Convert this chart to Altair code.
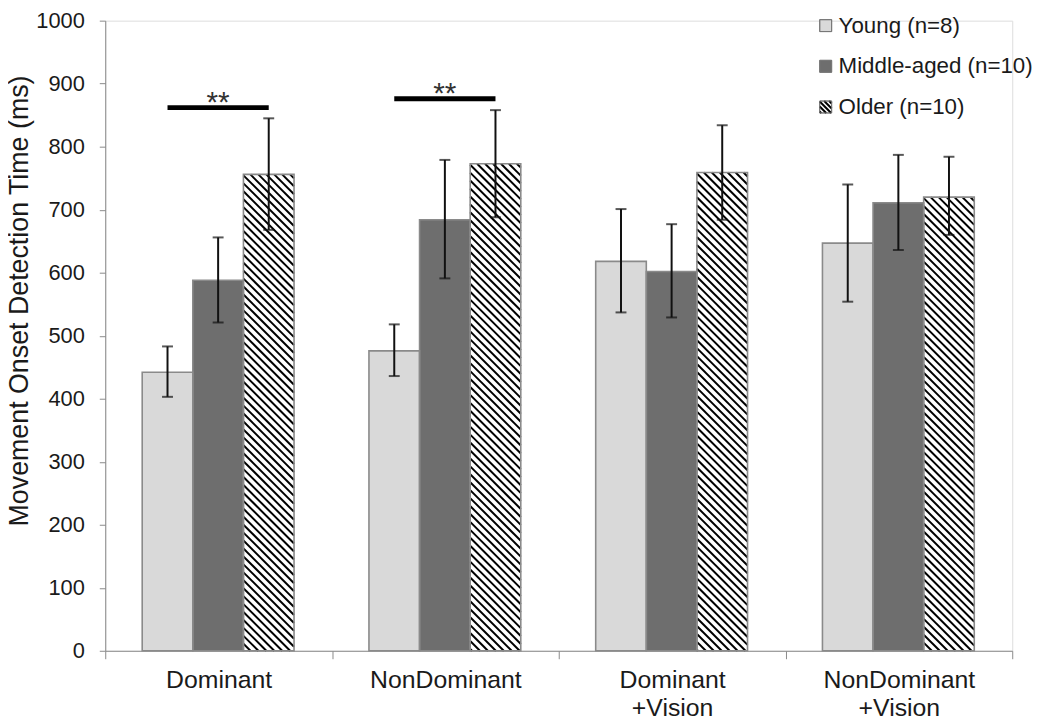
import altair as alt
import pandas as pd
import numpy as np

# ---------------- data ----------------
categories = ["Dominant", "NonDominant", "Dominant +Vision", "NonDominant +Vision"]
groups = ["Young (n=8)", "Middle-aged (n=10)", "Older (n=10)"]

young_mean = [442, 476, 618, 647]
young_lo = [403, 436, 537, 554]
young_hi = [483, 518, 701, 740]

middle_mean = [588, 684, 602, 711]
middle_lo = [521, 591, 529, 636]
middle_hi = [656, 779, 677, 787]

older_mean = [756, 773, 759, 720]
older_lo = [668, 688, 684, 660]
older_hi = [845, 858, 834, 784]

sig_categories = [0, 1]      # categories with a Young vs Older significance bar
sig_values = [862, 876]      # height of the significance bar
sig_text = "**"

y_ticks = list(range(0, 1001, 100))

# ---------------- layout ----------------
W, H = 914, 635
Y_MAX = 1000
SX = W / len(categories)     # px per category unit
SY = H / Y_MAX               # px per ms
GROUP_OFFSET = 0.163
BAR_W = 0.2232
FILLS = ["#d9d9d9", "#6e6e6e", "#ffffff"]
EDGE = "#8a8a8a"
HATCH_SPACING = 8
FONT = "Liberation Sans"
TEXT = "#1a1a1a"

means = [young_mean, middle_mean, older_mean]
los = [young_lo, middle_lo, older_lo]
his = [young_hi, middle_hi, older_hi]

rows = []
for ci, cat in enumerate(categories):
    for gi, g in enumerate(groups):
        x0 = ci + GROUP_OFFSET + gi * BAR_W
        rows.append(dict(category=cat, group=g, x0=x0, x1=x0 + BAR_W,
                         xc=x0 + BAR_W / 2, mean=means[gi][ci],
                         lo=los[gi][ci], hi=his[gi][ci], zero=0))
bars = pd.DataFrame(rows)


def hatch(left, right, bottom, top, spacing=HATCH_SPACING):
    """Diagonal '\\' hatch lines clipped to a rectangle given in data units."""
    w = (right - left) * SX
    h = (top - bottom) * SY
    segs = []
    c = -w + spacing / 2
    while c < h:
        px1 = max(0.0, -c)
        px2 = min(w, h - c)
        if px2 > px1:
            segs.append(dict(hx=left + px1 / SX, hy=top - (px1 + c) / SY,
                             hx2=left + px2 / SX, hy2=top - (px2 + c) / SY))
        c += spacing
    return segs


hatch_rows = []
for _, r in bars[bars.group == groups[2]].iterrows():
    hatch_rows += hatch(r.x0, r.x1, 0, r["mean"])

# significance bars: from Young bar centre to Older bar centre
sig_rows = []
for ci, v in zip(sig_categories, sig_values):
    xs = bars[bars.category == categories[ci]].xc.tolist()
    sig_rows.append(dict(sx=xs[0], sx2=xs[-1], sxm=(xs[0] + xs[-1]) / 2, sy=v, label=sig_text))
sig = pd.DataFrame(sig_rows)

# legend (placed in data space via pixel layout)
def px_x(px):
    return px / SX

def px_y(py):
    return (H - py) / SY

LEG_SQ = 12
leg_rows = []
for i, g in enumerate(groups):
    cy = 5 + i * 41
    leg_rows.append(dict(group=g, lx0=px_x(720), lx1=px_x(720 + LEG_SQ),
                         ly0=px_y(cy + LEG_SQ / 2), ly1=px_y(cy - LEG_SQ / 2),
                         tx=px_x(739), ty=px_y(cy)))
legend = pd.DataFrame(leg_rows)
lr = leg_rows[2]
hatch_rows += hatch(lr["lx0"], lr["lx1"], lr["ly0"], lr["ly1"], spacing=5)
hatches = pd.DataFrame(hatch_rows)

# ---------------- chart ----------------
xscale = alt.Scale(domain=[0, len(categories)], nice=False, zero=False)
yscale = alt.Scale(domain=[0, Y_MAX], nice=False)
color_scale = alt.Scale(domain=groups, range=FILLS)

label_expr = ""
for ci, cat in enumerate(categories):
    parts = cat.split(" ")
    lab = "'" + parts[0] + "'" if len(parts) == 1 else "[" + ",".join("'" + p + "'" for p in parts) + "]"
    label_expr += f"datum.value == {ci + 0.5} ? {lab} : "
label_expr += "''"

xaxis = alt.Axis(
    values=[i / 2 for i in range(2 * len(categories) + 1)],
    labelExpr=label_expr, labelOverlap=False, labelFlush=False, labelBound=False,
    tickOpacity={"condition": {"test": "datum.value % 1 == 0", "value": 1}, "value": 0},
    tickSize=8, tickColor=EDGE, domainColor=EDGE, grid=False,
    labelFont=FONT, labelFontSize=25, labelColor=TEXT, labelPadding=9,
    labelLineHeight=28, labelBaseline="top", title=None,
)
yaxis = alt.Axis(
    values=y_ticks, format="d", tickSize=6, tickColor=EDGE, domainColor=EDGE, grid=False,
    labelFont=FONT, labelFontSize=22, labelColor=TEXT, labelPadding=15,
    title="Movement Onset Detection Time (ms)", titleFont=FONT, titleFontSize=27,
    titleFontWeight="normal", titleColor=TEXT, titlePadding=2, titleY=282,
)

base = alt.Chart(bars)

bar_fill = base.mark_rect(strokeWidth=0).encode(
    x=alt.X("x0:Q", scale=xscale, axis=xaxis),
    x2="x1:Q",
    y=alt.Y("mean:Q", scale=yscale, axis=yaxis),
    y2="zero:Q",
    color=alt.Color("group:N", scale=color_scale, legend=None),
)

hatch_layer = alt.Chart(hatches).mark_rule(color="black", strokeWidth=2.0, strokeCap="butt").encode(
    x="hx:Q", y="hy:Q", x2="hx2:Q", y2="hy2:Q"
)

bar_edge = base.mark_rect(fillOpacity=0, stroke=EDGE, strokeWidth=1.6).encode(
    x="x0:Q", x2="x1:Q", y="mean:Q", y2="zero:Q"
)

err = base.mark_rule(color="#111111", strokeWidth=2).encode(
    x="xc:Q", y="lo:Q", y2="hi:Q"
)
cap_lo = base.mark_tick(color="#111111", orient="horizontal", size=11, thickness=2).encode(
    x="xc:Q", y="lo:Q"
)
cap_hi = base.mark_tick(color="#111111", orient="horizontal", size=11, thickness=2).encode(
    x="xc:Q", y="hi:Q"
)

sig_bar = alt.Chart(sig).mark_rule(color="black", strokeWidth=5).encode(
    x="sx:Q", x2="sx2:Q", y="sy:Q"
)
sig_lab = alt.Chart(sig).mark_text(font=FONT, fontSize=30, color="#333333",
                                   baseline="alphabetic", dy=4).encode(
    x="sxm:Q", y="sy:Q", text="label:N"
)

leg_box = alt.Chart(legend).mark_rect(stroke="#777777", strokeWidth=1).encode(
    x="lx0:Q", x2="lx1:Q", y="ly0:Q", y2="ly1:Q",
    color=alt.Color("group:N", scale=color_scale, legend=None),
)
leg_edge = alt.Chart(legend).mark_rect(fillOpacity=0, stroke="#777777", strokeWidth=1).encode(
    x="lx0:Q", x2="lx1:Q", y="ly0:Q", y2="ly1:Q"
)
leg_text = alt.Chart(legend).mark_text(font=FONT, fontSize=22.5, color=TEXT, align="left",
                                       baseline="middle").encode(
    x="tx:Q", y="ty:Q", text="group:N"
)

chart = alt.layer(
    bar_fill, leg_box, hatch_layer, bar_edge, leg_edge, err, cap_lo, cap_hi,
    sig_bar, sig_lab, leg_text
).properties(
    width=W, height=H,
    autosize=alt.AutoSizeParams(type="none"),
    padding={"left": 98, "top": 10, "right": 30, "bottom": 67},
).configure_view(stroke=None).configure(background="white")

chart.save("out.html", embed_options={"renderer": "svg", "actions": False})
